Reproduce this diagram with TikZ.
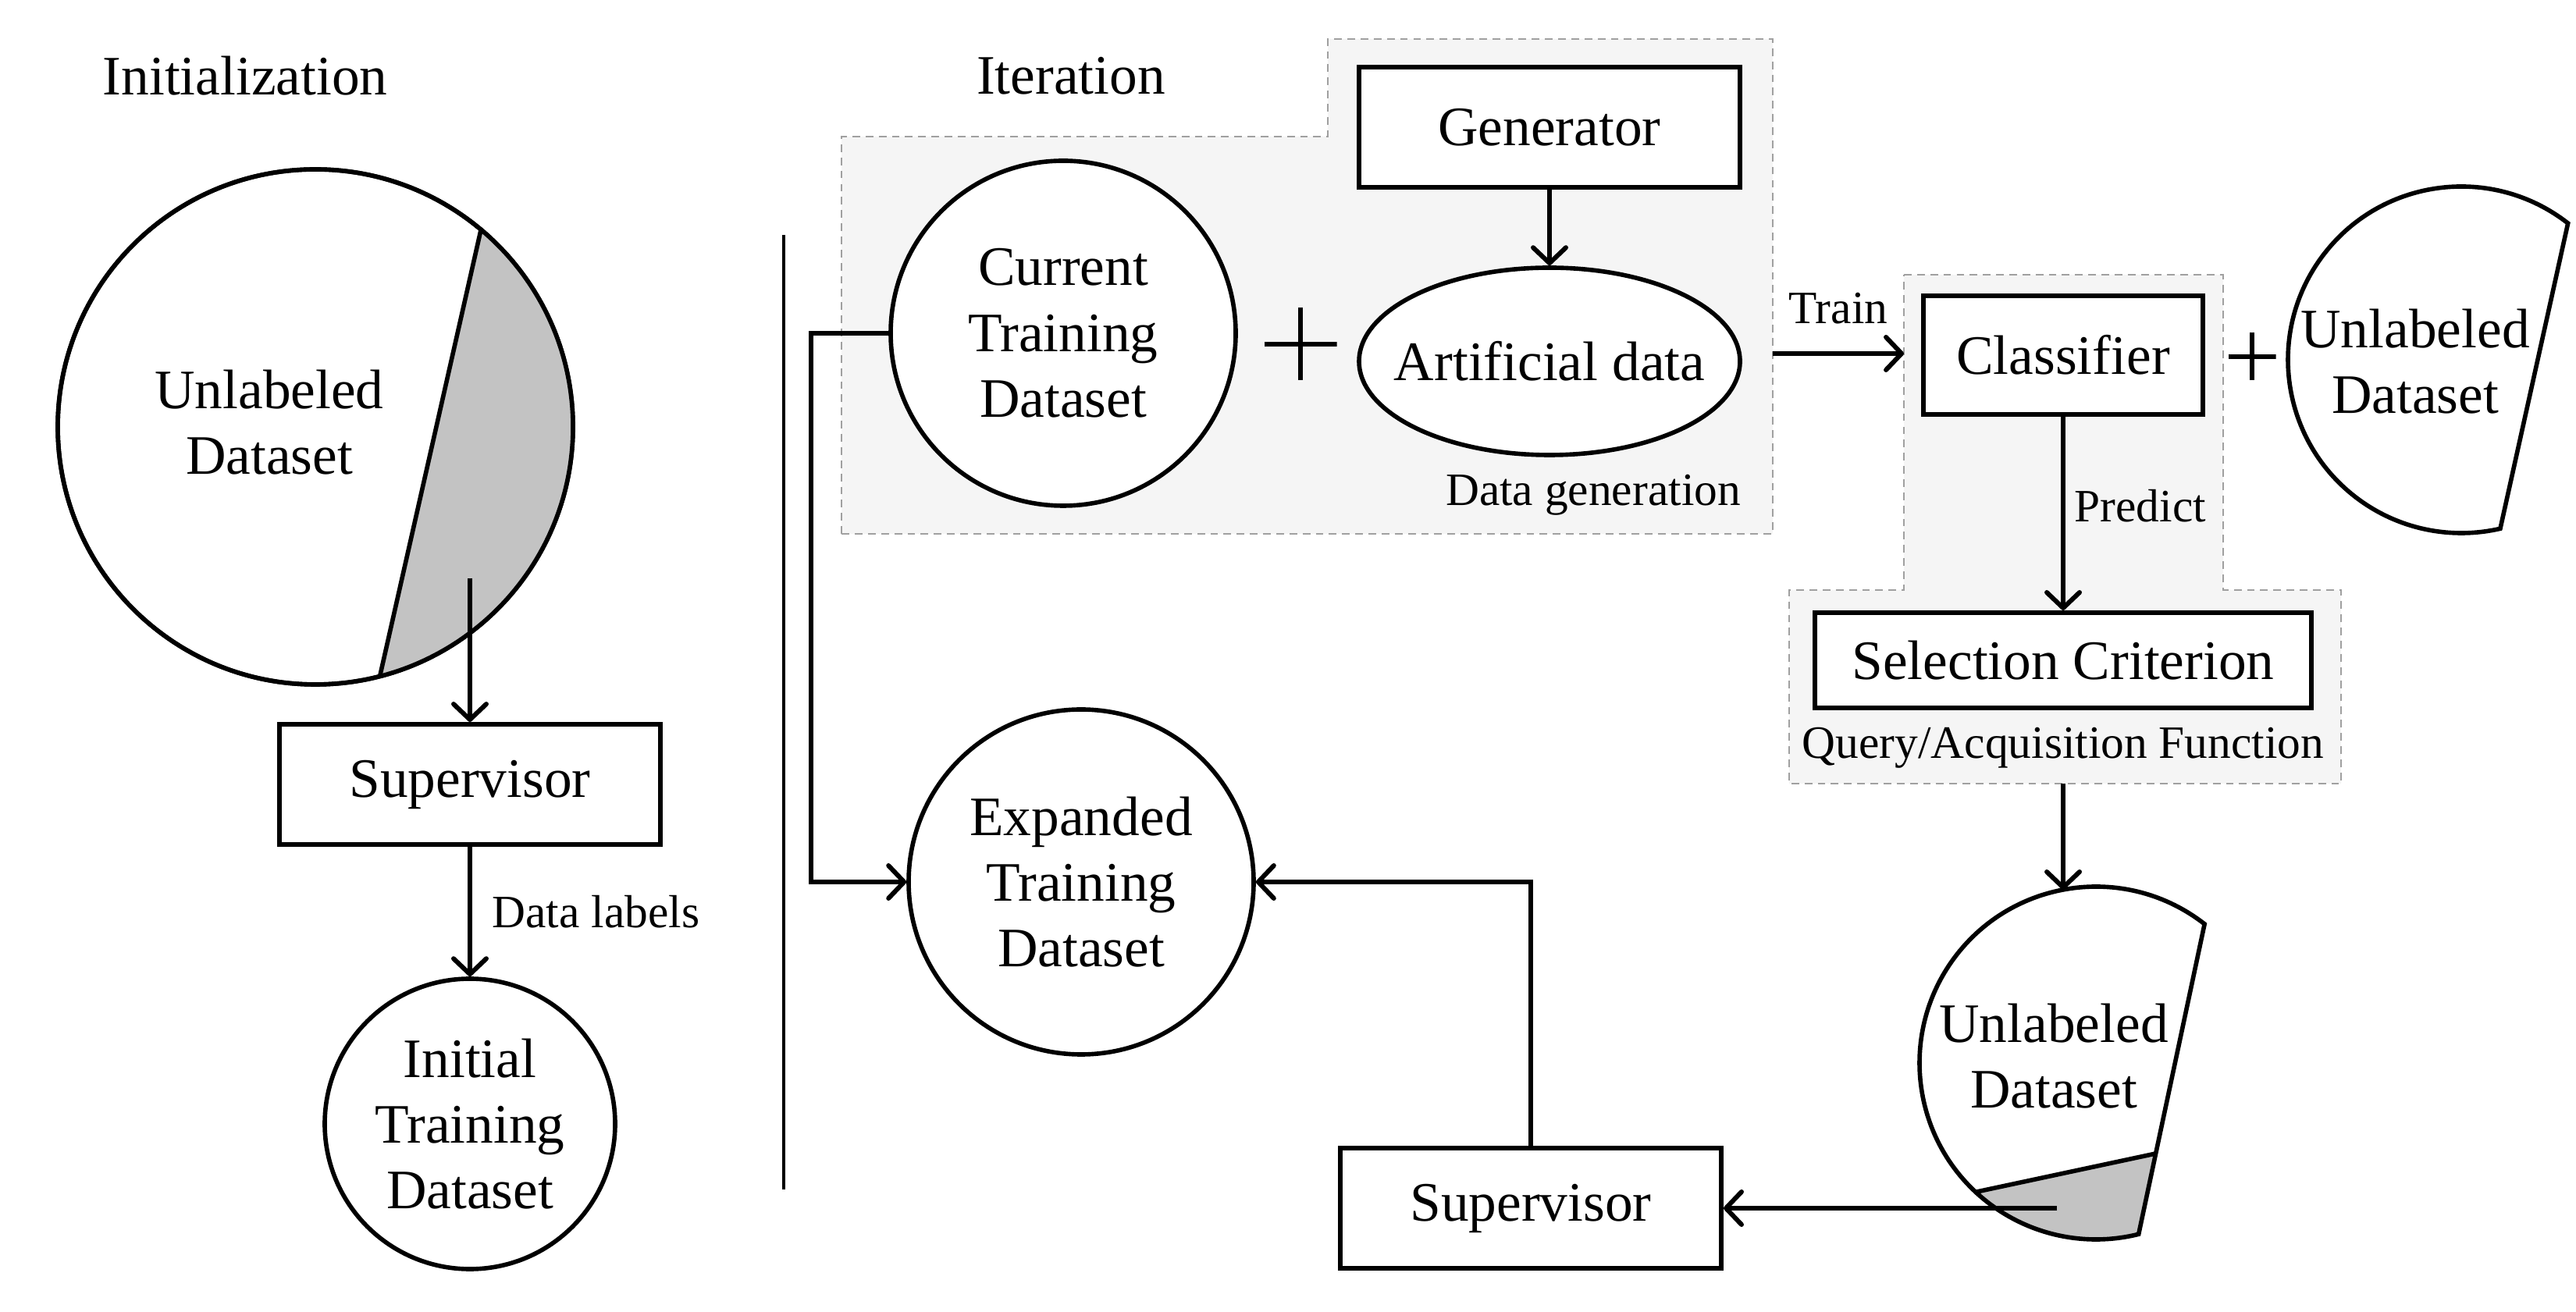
\documentclass[tikz,border=0pt]{standalone}
\usepackage{fontspec}
\setmainfont{Liberation Serif}
\usetikzlibrary{arrows.meta,calc,shapes.geometric}
\definecolor{labeled}{HTML}{C3C3C3}
\definecolor{zonefill}{HTML}{F5F5F5}
\definecolor{zoneline}{HTML}{A0A0A0}
\newcommand{\maintxt}{\fontsize{20.3}{24}\selectfont}
\newcommand{\lbltxt}{\fontsize{16.9}{20}\selectfont}

\begin{document}
\begin{tikzpicture}[
    box/.style={draw, fill=white, line width=1.7pt, minimum width=4.88cm, minimum height=1.54cm},
    dataset/.style={draw, fill=white, circle, line width=1.6pt, inner sep=0pt},
    link/.style={line width=1.7pt, -{Straight Barb[length=2mm, width=4.2mm, round]}},
    zone/.style={draw=zoneline, fill=zonefill, dash pattern=on 2.8pt off 2pt, line width=0.75pt},
    lbl/.style={font=\lbltxt},
    plusmark/.style={minimum size=#1, inner sep=0pt, path picture={
        \draw[line width=1.6pt] (path picture bounding box.north) -- (path picture bounding box.south)
            (path picture bounding box.west) -- (path picture bounding box.east);}}
]
\tikzset{every node/.style={font=\maintxt, align=center}}
%\tikzset{every node/.style={font=\Large, align=center}}
\useasboundingbox (0,0) rectangle (33,16.8);

\node (init) at (3.14,15.83) {Initialization};
\node (iter) at (13.72,15.83) {Iteration};

% grey zones
\draw[zone] (10.78,9.96) -- (10.78,15.05) -- (17.01,15.05) -- (17.01,16.30)
    -- (22.71,16.30) -- (22.71,9.96) -- cycle;
\draw[zone] (24.39,13.28) -- (28.48,13.28) -- (28.48,9.24) -- (29.99,9.24)
    -- (29.99,6.76) -- (22.92,6.76) -- (22.92,9.24) -- (24.39,9.24) -- cycle;

% initialization
\coordinate (pool-c) at (4.04,11.33);
\coordinate (pool-a) at ($(pool-c)+(50:3.3)$);
\coordinate (pool-b) at ($(pool-c)+(-75.5:3.3)$);
\node[dataset, minimum size=6.6cm] (pool) at (pool-c) {};
\fill[labeled] (pool-a) arc[start angle=50, end angle=-75.5, radius=3.3] -- cycle;
\draw[line width=1.6pt] (pool-c) circle[radius=3.3];
\draw[line width=1.6pt] (pool-a) -- (pool-b);
\node (pool-txt) at (3.45,11.39) {Unlabeled\\Dataset};
\coordinate (sup-in) at (6.02,9.39);
\node[box] (sup1) at (6.02,6.75) {Supervisor};
\node[dataset, minimum size=3.72cm] (init-set) at (6.02,2.40) {Initial\\Training\\Dataset};
\draw[link] (sup-in) -- (sup1);
\draw[link] (sup1) -- node[lbl, right=1.4mm] {Data labels} (init-set);

\coordinate (sep-top) at (10.04,13.79);
\coordinate (sep-bot) at (10.04,1.56);
\draw[line width=1pt] (sep-top) -- (sep-bot);

% iteration
\node[dataset, minimum size=4.42cm] (cur) at (13.62,12.53) {Current\\Training\\Dataset};
\node[plusmark=0.93cm] (plus1) at (16.66,12.39) {};
\node[box] (gen) at (19.85,15.17) {Generator};
\node[draw, fill=white, ellipse, line width=1.6pt, inner xsep=-0.35cm,
      minimum width=4.88cm, minimum height=2.4cm] (art) at (19.85,12.17) {Artificial data};
\draw[link] (gen) -- (art);
\node[lbl] (gen-lbl) at (20.41,10.46) {Data generation};

\coordinate (gen-e) at (22.71,12.27);
\coordinate (cls-w) at (24.39,12.27);
\draw[link] (gen-e) -- node[lbl, above=2.3mm] {Train} (cls-w);
\node[box, minimum width=3.58cm, minimum height=1.52cm] (cls) at (26.43,12.25) {Classifier};
\node[plusmark=0.61cm] (plus2) at (28.85,12.23) {};

\coordinate (pool2-c) at (31.53,12.19);
\coordinate (pool2-a) at ($(pool2-c)+(52:2.22)$);
\draw[line width=1.6pt] (pool2-a) arc[start angle=52, end angle=283, radius=2.22] -- cycle;
\node (pool2) at (30.94,12.17) {Unlabeled\\Dataset};

\node[box, minimum width=6.36cm, minimum height=1.22cm] (sel) at (26.43,8.34) {Selection Criterion};
\draw[link] (cls) -- node[lbl, right, yshift=1mm] {Predict} (sel);
\node[lbl] (sel-lbl) at (26.43,7.22) {Query/Acquisition Function};

\coordinate (pool3-c) at (26.85,3.18);
\coordinate (pool3-a) at ($(pool3-c)+(52:2.26)$);
\coordinate (pool3-b) at ($(pool3-c)+(-76:2.26)$);
\coordinate (pool3-g) at ($(pool3-c)+(227:2.26)$);
\coordinate (pool3-h) at ($(pool3-a)!0.74!(pool3-b)$);
\fill[labeled] (pool3-g) -- (pool3-h) -- (pool3-b) arc[start angle=-76, end angle=-133, radius=2.26] -- cycle;
\draw[line width=1.6pt] (pool3-a) arc[start angle=52, end angle=284, radius=2.26] -- cycle;
\draw[line width=1.6pt] (pool3-g) -- (pool3-h);
\node (pool3) at (26.31,3.27) {Unlabeled\\Dataset};
\coordinate (sel-out) at (26.43,6.76);
\coordinate (pool3-top) at (26.43,5.40);
\draw[link] (sel-out) -- (pool3-top);

\node[box] (sup2) at (19.61,1.32) {Supervisor};
\coordinate (pick) at (26.35,1.32);
\draw[link] (pick) -- (sup2);
\node[dataset, minimum size=4.42cm] (exp) at (13.85,5.50) {Expanded\\Training\\Dataset};
\draw[link] (sup2) |- (exp);
\draw[link] (cur.west) -- ++(-0.99,0) |- (exp);
\end{tikzpicture}
\end{document}
